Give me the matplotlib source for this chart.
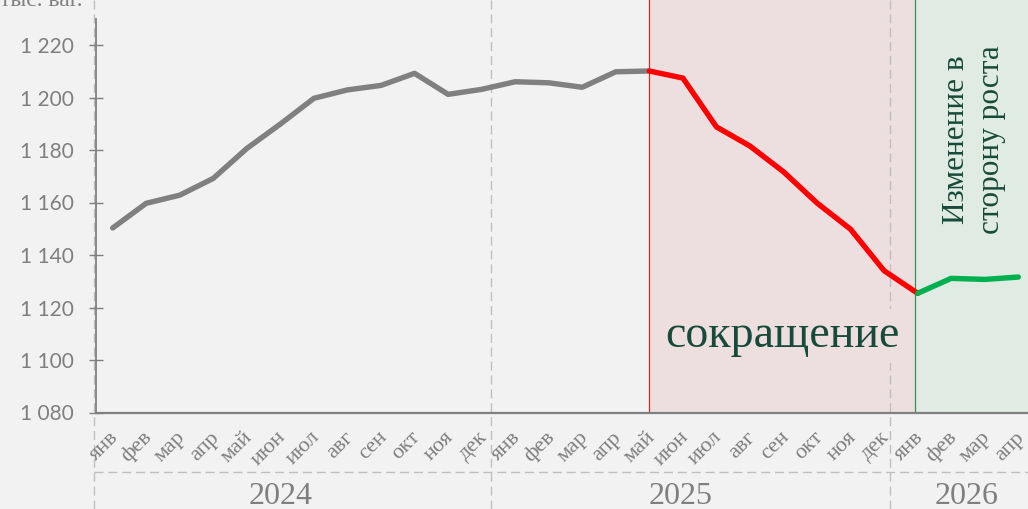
import matplotlib
matplotlib.use("Agg")
import matplotlib.pyplot as plt
import matplotlib.transforms as mtransforms

# ---- data ----
months = ["янв", "фев", "мар", "апр", "май", "июн", "июл", "авг", "сен", "окт", "ноя", "дек",
          "янв", "фев", "мар", "апр", "май", "июн", "июл", "авг", "сен", "окт", "ноя", "дек",
          "янв", "фев", "мар", "апр"]
values = [1150.3, 1159.7, 1162.8, 1169.2, 1180.6, 1189.9, 1199.7, 1202.9, 1204.6, 1209.2, 1201.2, 1203.1,
          1206.0, 1205.6, 1203.9, 1209.8, 1210.1, 1207.4, 1188.8, 1181.5, 1171.7, 1159.8, 1149.8, 1134.0,
          1125.4, 1131.1, 1130.7, 1131.6]
years = ["2024", "2025", "2026"]
yticks = [1080, 1100, 1120, 1140, 1160, 1180, 1200, 1220]
seg_grey = (0, 16)
seg_red = (16, 24)
seg_green = (24, 27)
label_down = "сокращение"
label_up = "Изменение в\nсторону роста"
ytitle = "тыс. ваг."

# ---- style ----
W, H = 1028, 509
BG = "#F2F2F2"
GREY_TXT = "#7F7F7F"
DARK_GREEN = "#174A3A"
SERIF = ["Liberation Serif", "DejaVu Serif"]
SANS = ["Lato", "DejaVu Sans"]

fig = plt.figure(figsize=(W / 100, H / 100), dpi=100)
fig.patch.set_facecolor(BG)

px_x0 = 112.7      # pixel of first category
px_step = 33.54    # pixel per category
ax_left_px = px_x0 - 0.5 * px_step
ax_bottom_px = 412.5
ax = fig.add_axes([ax_left_px / W, (H - ax_bottom_px) / H,
                   (W - ax_left_px) / W, ax_bottom_px / H])
ax.set_facecolor(BG)
xr = (W - px_x0) / px_step
ax.set_xlim(-0.5, xr)
ppu = 2.625
ax.set_ylim(1080, 1080 + ax_bottom_px / ppu)

for s in ["top", "right", "left"]:
    ax.spines[s].set_visible(False)
ax.spines["bottom"].set_color("#808080")
ax.spines["bottom"].set_linewidth(1.6)
ax.spines["bottom"].set_zorder(6)

# zones
ax.axvspan(16, 23.92, color="#EDDFDF", zorder=0, lw=0)
ax.axvspan(23.92, xr + 1, color="#DFEBE3", zorder=0, lw=0)
ax.axvline(16, color="#D42A2A", lw=0.9, zorder=1)
ax.axvline(23.92, color="#3E8E55", lw=0.9, zorder=1)

# dashed separators (full figure height)
ymin_f = -(H - ax_bottom_px) / ax_bottom_px
for xs in [-0.55, 11.27, 23.18]:
    ax.axvline(xs, ymin=ymin_f, ymax=1, color="#BFBFBF", lw=1.0,
               ls=(0, (6.5, 3.5)), clip_on=False, zorder=1)
hy = -(471.7 - ax_bottom_px) / ax_bottom_px
ax.plot([-0.55, xr + 1], [hy, hy], transform=ax.get_xaxis_transform(),
        color="#BFBFBF", lw=1.0, ls=(0, (6.5, 3.5)), clip_on=False, zorder=1)

# left axis line
ax.plot([-0.5, -0.5], [1080, 1230], color="#808080", lw=1.3, clip_on=False, zorder=5)

# lines
kw = dict(lw=3.9, solid_capstyle="round", solid_joinstyle="round", zorder=4)
xs_all = list(range(len(values)))
a, b = seg_grey
ax.plot(xs_all[a:b + 1], values[a:b + 1], color="#808080", **kw)
a, b = seg_red
ax.plot(xs_all[a:b + 1], values[a:b + 1], color="#FF0000", **kw)
a, b = seg_green
ax.plot(xs_all[a:b + 1], values[a:b + 1], color="#00B050", **kw)

# y ticks
ax.set_yticks(yticks)
ax.set_yticklabels([f"{v:,}".replace(",", " ") for v in yticks])
ax.tick_params(axis="y", direction="inout", length=10.5, width=1.0, color="#808080",
               labelcolor=GREY_TXT, labelsize=15, pad=10.5)
for t in ax.get_yticklabels():
    t.set_fontfamily(SANS)

# x ticks (months)
ax.set_xticks(xs_all)
ax.set_xticklabels(months, rotation=45, ha="right", va="center", rotation_mode="anchor",
                   fontsize=16, color=GREY_TXT, family=SERIF)
ax.tick_params(axis="x", length=0, pad=16)
off = mtransforms.ScaledTranslation(3 / 100, 0, fig.dpi_scale_trans)
for t in ax.get_xticklabels():
    t.set_transform(t.get_transform() + off)

# years
year_pos = [(280.5 - px_x0) / px_step, (680.6 - px_x0) / px_step, (966.3 - px_x0) / px_step]
yy = -(497 - ax_bottom_px) / ax_bottom_px
for ypos, ylab in zip(year_pos, years):
    ax.text(ypos, yy, ylab, transform=ax.get_xaxis_transform(), ha="center", va="center",
            fontsize=23, color=GREY_TXT, family=SERIF, clip_on=False)

# annotations
ax.text((782 - px_x0) / px_step, 1080 + (412.5 - 336) / ppu, label_down, ha="center", va="center",
        fontsize=33, color=DARK_GREEN, family=SERIF, zorder=3,
        bbox=dict(boxstyle="square,pad=0.12", fc="#EDDFDF", ec="none"))
ax.text((974 - px_x0) / px_step, 1080 + (412.5 - 140) / ppu, label_up, ha="center", va="center",
        rotation=90, fontsize=22.5, color=DARK_GREEN, family=SERIF, linespacing=1.3, zorder=3)

fig.text(82 / W, 1 - 6 / H, ytitle, ha="right", va="baseline", fontsize=17,
         color=GREY_TXT, family=SERIF)

fig.savefig("out.png", dpi=100, facecolor=BG)
